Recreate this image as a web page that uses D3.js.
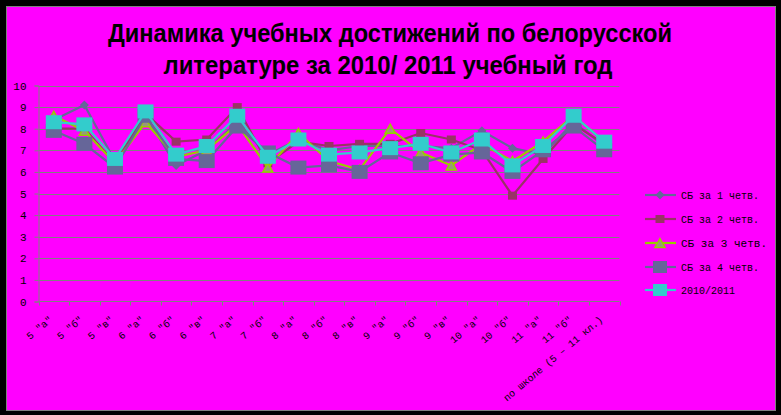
<!DOCTYPE html>
<html>
<head>
<meta charset="utf-8">
<script src="https://d3js.org/d3.v7.min.js"></script>
<style>
body { margin: 0; background: #000; }
svg { display: block; }
.ax text { font-family: "Liberation Mono", monospace; }
</style>
</head>
<body>
<svg id="chart" width="781" height="415"></svg>
<script>
// categories and series values
var categories = ['5 "а"', '5 "б"', '5 "в"', '6 "а"', '6 "б"', '6 "в"', '7 "а"', '7 "б"', '8 "а"', '8 "б"', '8 "в"',
  '9 "а"', '9 "б"', '9 "в"', '10 "а"', '10 "б"', '11 "а"', '11 "б"', 'по школе (5 – 11 кл.)'];
var q1 = [8.4, 9.1, 6.5, 8.6, 6.3, 7.0, 8.3, 6.8, 7.5, 7.0, 7.2, 7.2, 7.2, 7.1, 7.9, 7.1, 6.8, 8.3, 7.2];
var q2 = [8.0, 8.0, 6.4, 8.7, 7.4, 7.5, 9.0, 6.4, 7.4, 7.2, 7.3, 7.3, 7.8, 7.5, 7.0, 4.9, 6.6, 8.2, 7.3];
var q3 = [8.6, 7.9, 6.4, 8.3, 6.7, 7.0, 8.2, 6.2, 7.8, 6.5, 6.1, 8.0, 6.9, 6.3, 7.3, 6.5, 7.4, 8.6, 7.4];
var q4 = [7.9, 7.3, 6.2, 8.6, 6.6, 6.5, 8.1, 6.9, 6.2, 6.3, 6.0, 6.9, 6.4, 6.8, 6.9, 6.0, 7.0, 8.1, 7.0];
var year = [8.3, 8.2, 6.6, 8.8, 6.8, 7.2, 8.6, 6.7, 7.5, 6.8, 6.9, 7.1, 7.3, 6.9, 7.5, 6.3, 7.2, 8.6, 7.4];
var yTicks = [0, 1, 2, 3, 4, 5, 6, 7, 8, 9, 10];

var series = [
  {name: 'СБ за 1 четв.', values: q1, line: '#666699', marker: 'diamond', fill: '#666699', stroke: '#666699', w: 9, h: 9},
  {name: 'СБ за 2 четв.', values: q2, line: '#993366', marker: 'square', fill: '#993366', stroke: '#993366', w: 9, h: 8},
  {name: 'СБ  за  3  четв.', values: q3, line: '#99CC00', marker: 'triangle', fill: '#999977', stroke: '#99CC00', w: 10, h: 9},
  {name: 'СБ за 4 четв.', values: q4, line: '#666699', marker: 'square', fill: '#666699', stroke: '#666699', w: 16, h: 14},
  {name: '2010/2011', values: year, line: '#33CCCC', marker: 'square', fill: '#33CCCC', stroke: '#33CCCC', w: 16, h: 14}
];

var svg = d3.select('#chart');
svg.append('rect').attr('x', 0).attr('y', 0).attr('width', 781).attr('height', 415).attr('fill', '#000');
svg.append('rect').attr('x', 6.5).attr('y', 6.5).attr('width', 769).attr('height', 404)
  .attr('fill', '#FF00FF').attr('stroke', '#808080').attr('stroke-width', 1);

// title
var title = svg.append('text').attr('text-anchor', 'middle')
  .style('font-family', '"Liberation Sans", Arial, sans-serif').style('font-weight', 'bold').style('font-size', '26px');
title.append('tspan').attr('x', 390).attr('y', 42).attr('textLength', 564).attr('lengthAdjust', 'spacingAndGlyphs')
  .text('Динамика учебных достижений по белорусской');
title.append('tspan').attr('x', 388).attr('y', 74).attr('textLength', 449).attr('lengthAdjust', 'spacingAndGlyphs')
  .text('литературе  за 2010/ 2011 учебный год');

var x = d3.scaleBand().domain(categories).range([38.5, 619.5]);
var y = d3.scaleLinear().domain([0, 10]).range([301.5, 85.5]);

// gridlines
svg.append('g').selectAll('line').data(yTicks.slice(1)).join('line')
  .attr('x1', 38.5).attr('x2', 619.5).attr('y1', function(d) { return Math.round(y(d)) + 0.5; }).attr('y2', function(d) { return Math.round(y(d)) + 0.5; })
  .attr('stroke', '#808080').attr('stroke-width', 1);

// y axis
var yAxis = d3.axisLeft(y).tickValues(yTicks).tickSize(4).tickPadding(8).tickFormat(d3.format('d'));
var gy = svg.append('g').attr('class', 'ax').attr('transform', 'translate(38.5,0)').call(yAxis);
gy.select('.domain').attr('stroke', '#808080');
gy.selectAll('.tick line').attr('stroke', '#808080');
gy.selectAll('.tick text').style('font-size', '11px').attr('fill', '#000');

// x axis: ticks at category boundaries
var boundaries = categories.map(function(c) { return x(c); }).concat([x.range()[1]]);
svg.append('line').attr('x1', 38.5).attr('x2', 619.5).attr('y1', 301.5).attr('y2', 301.5).attr('stroke', '#808080');
svg.append('g').selectAll('line').data(boundaries).join('line')
  .attr('x1', function(d) { return Math.round(d) + 0.5; }).attr('x2', function(d) { return Math.round(d) + 0.5; })
  .attr('y1', 301.5).attr('y2', 305.5).attr('stroke', '#808080');
svg.append('g').attr('class', 'ax').selectAll('text').data(categories).join('text')
  .attr('transform', function(d) { return 'translate(' + (x(d) + x.bandwidth() / 2 - 3) + ',318) rotate(-40)'; })
  .attr('text-anchor', 'end').attr('dy', '0.35em')
  .style('font-size', '10px').attr('fill', '#000')
  .text(function(d) { return d; });

var cx = function(i) { return x(categories[i]) + x.bandwidth() / 2; };

function drawMarker(g, s, px, py) {
  if (s.marker === 'square') {
    g.append('rect').attr('x', px - s.w / 2).attr('y', py - s.h / 2).attr('width', s.w).attr('height', s.h)
      .attr('fill', s.fill);
  } else if (s.marker === 'diamond') {
    g.append('path').attr('d', 'M' + px + ',' + (py - s.h / 2) + 'L' + (px + s.w / 2) + ',' + py + 'L' + px + ',' + (py + s.h / 2) + 'L' + (px - s.w / 2) + ',' + py + 'Z')
      .attr('fill', s.fill);
  } else {
    g.append('path').attr('d', 'M' + px + ',' + (py - s.h / 2) + 'L' + (px + s.w / 2) + ',' + (py + s.h / 2) + 'L' + (px - s.w / 2) + ',' + (py + s.h / 2) + 'Z')
      .attr('fill', s.fill).attr('stroke', s.stroke).attr('stroke-width', 1.5);
  }
}

// series, drawn one after another: line then markers
var line = d3.line().x(function(d, i) { return cx(i); }).y(function(d) { return y(d); });
series.forEach(function(s) {
  var g = svg.append('g');
  g.append('path').datum(s.values).attr('d', line).attr('fill', 'none').attr('stroke', s.line).attr('stroke-width', 2.2);
  s.values.forEach(function(v, i) { drawMarker(g, s, cx(i), y(v)); });
});

// legend
var legendY = [195, 219, 243, 267, 290];
series.forEach(function(s, i) {
  var g = svg.append('g');
  g.append('line').attr('x1', 645).attr('x2', 676).attr('y1', legendY[i]).attr('y2', legendY[i]).attr('stroke', s.line).attr('stroke-width', 2.2);
  var ls = Object.assign({}, s, {w: s.w > 10 ? 14 : s.w, h: s.h > 10 ? 12 : s.h});
  drawMarker(g, ls, 660, legendY[i]);
  var t = g.append('text').attr('x', 681).attr('y', legendY[i]).attr('dy', '0.35em')
    .style('font-family', '"Liberation Mono", monospace').style('font-size', '10px').attr('fill', '#000').text(s.name);
  if (i === 2) t.attr('textLength', 86).attr('lengthAdjust', 'spacingAndGlyphs');
});
</script>
</body>
</html>
